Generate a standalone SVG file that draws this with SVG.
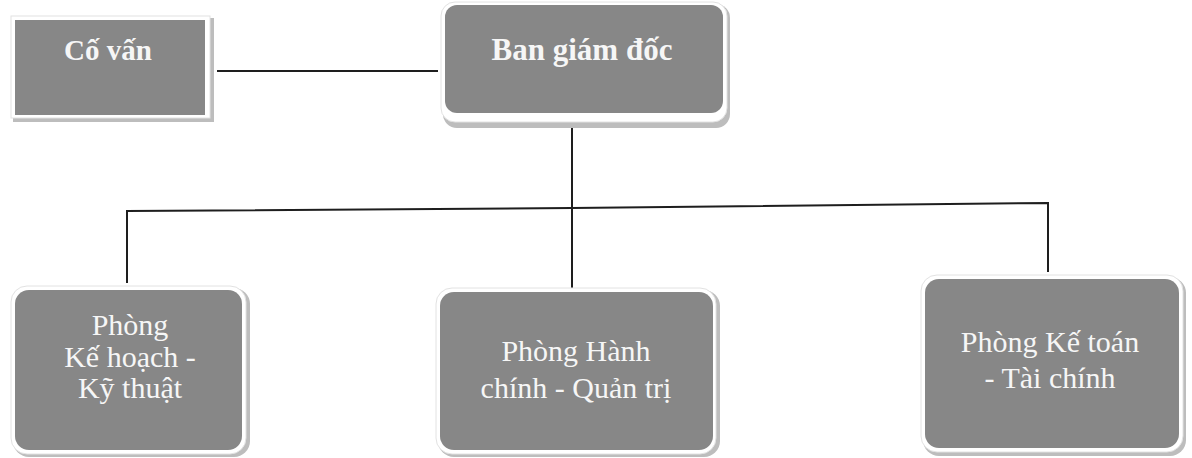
<svg xmlns="http://www.w3.org/2000/svg" width="1192" height="458" viewBox="0 0 1192 458">
<style>
.shadow{fill:#bdbdbd}
.edge{fill:#ffffff;stroke:#e2e2e2;stroke-width:1}
.box{fill:#878787}
.t{fill:#f6f6f6;font-family:"Liberation Serif","Times New Roman",serif;text-anchor:middle}
.b{font-weight:bold;font-size:29px}
.b2{font-weight:bold;font-size:31px}
.r{font-size:30px}
.conn{stroke:#1e1e1e;stroke-width:2;fill:none}
</style>
<rect width="1192" height="458" fill="#ffffff"/>
<g id="connectors">
<line class="conn" x1="217" y1="71" x2="438" y2="71"/>
<line class="conn" x1="572" y1="128" x2="572" y2="290"/>
<polyline class="conn" points="127,283 127,211 572,208 1048,203 1048,272"/>
</g>
<g id="co-van">
<rect class="shadow" x="13" y="18" width="201" height="104"/>
<rect class="edge" x="11" y="16" width="199" height="102"/>
<rect class="box" x="15" y="20" width="190" height="95"/>
<text class="t b" x="108" y="60">Cố vấn</text>
</g>
<g id="ban-giam-doc">
<rect class="shadow" x="443" y="4" width="287" height="124" rx="14"/>
<rect class="edge" x="441" y="2" width="286" height="120" rx="14"/>
<rect class="box" x="445" y="5" width="278" height="108" rx="12"/>
<text class="t b2" x="582" y="60">Ban giám đốc</text>
</g>
<g id="ke-hoach-ky-thuat">
<rect class="shadow" x="13" y="288" width="237" height="169" rx="16"/>
<rect class="edge" x="11" y="286" width="235" height="168" rx="16"/>
<rect class="box" x="15" y="290" width="227" height="160" rx="14"/>
<text class="t r" x="130" y="335">Phòng</text>
<text class="t r" x="130" y="367">Kế hoạch -</text>
<text class="t r" x="130" y="398">Kỹ thuật</text>
</g>
<g id="hanh-chinh-quan-tri">
<rect class="shadow" x="438" y="290" width="282" height="167" rx="16"/>
<rect class="edge" x="436" y="288" width="280" height="166" rx="16"/>
<rect class="box" x="440" y="292" width="273" height="158" rx="14"/>
<text class="t r" x="576" y="361">Phòng Hành</text>
<text class="t r" x="576" y="398">chính - Quản trị</text>
</g>
<g id="ke-toan-tai-chinh">
<rect class="shadow" x="923" y="277" width="263" height="179" rx="16"/>
<rect class="edge" x="921" y="275" width="262" height="177" rx="16"/>
<rect class="box" x="925" y="279" width="254" height="169" rx="14"/>
<text class="t r" x="1050" y="352">Phòng Kế toán</text>
<text class="t r" x="1050" y="388">- Tài chính</text>
</g>
</svg>
